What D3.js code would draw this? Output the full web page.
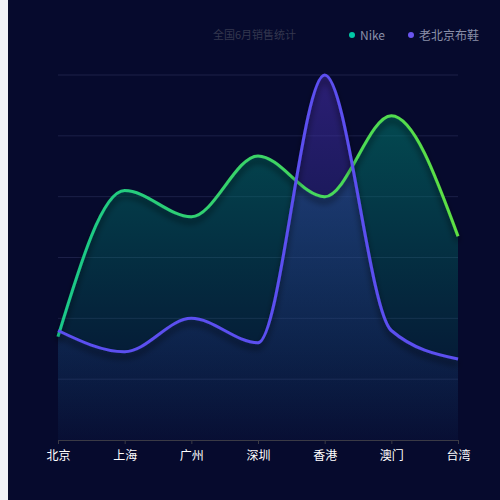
<!DOCTYPE html>
<html><head><meta charset="utf-8">
<script src="https://cdn.jsdelivr.net/npm/d3@7"></script>
<style>body{margin:0;background:#f0f2f7}svg{display:block}</style>
</head><body><svg id="c" width="500" height="500"></svg>
<script>
const cities = ['北京','上海','广州','深圳','香港','澳门','台湾'];
const nike = [1.7, 4.1, 3.67, 4.67, 4.0, 5.33, 3.35];
const beijingShoes = [1.8, 1.45, 2.0, 1.6, 6.0, 1.8, 1.33];
const yTicks = [0,1,2,3,4,5,6];

const svg = d3.select('#c');
const font = '"Noto Sans CJK SC", "Noto Sans", sans-serif';
svg.append('rect').attr('x',8).attr('width',492).attr('height',500).attr('fill','#060a2d');

const x = d3.scalePoint().domain(cities).range([58,458]);
const y = d3.scaleLinear().domain([0,6]).range([440,75]);
const defs = svg.append('defs');

function grad(id, stops, x1,y1,x2,y2){
  const g = defs.append('linearGradient').attr('id',id).attr('gradientUnits','userSpaceOnUse')
    .attr('x1',x1).attr('y1',y1).attr('x2',x2).attr('y2',y2);
  stops.forEach(([o,c,op])=>g.append('stop').attr('offset',o).attr('stop-color',c).attr('stop-opacity',op));
}
grad('nikeArea',[[0,'#00806f',0.6],[1,'#00806f',0.02]],0,75,0,440);
grad('blueArea',[[0,'#4a2fb0',0.55],[1,'#2a3a9a',0.05]],0,75,0,440);
grad('nikeLine',[[0,'#19c88a',1],[1,'#5ee043',1]],58,0,458,0);
const f = defs.append('filter').attr('id','glow').attr('x','-10%').attr('y','-10%').attr('width','120%').attr('height','130%');
f.append('feDropShadow').attr('dx',0).attr('dy',5).attr('stdDeviation',3).attr('flood-color','#000').attr('flood-opacity',0.6);

svg.append('g').selectAll('line').data(yTicks.slice(1)).join('line')
  .attr('x1',58).attr('x2',458).attr('y1',d=>y(d)).attr('y2',d=>y(d))
  .attr('stroke','#1c2048').attr('stroke-width',1);

const curve = d3.curveMonotoneX;
const area = d3.area().x((d,i)=>x(cities[i])).y0(y(0)).y1(d=>y(d)).curve(curve);
const line = d3.line().x((d,i)=>x(cities[i])).y(d=>y(d)).curve(curve);

svg.append('path').attr('d',area(nike)).attr('fill','url(#nikeArea)');
svg.append('path').attr('d',area(beijingShoes)).attr('fill','url(#blueArea)');
svg.append('path').attr('d',line(nike)).attr('fill','none').attr('stroke','url(#nikeLine)').attr('stroke-width',3).attr('filter','url(#glow)');
svg.append('path').attr('d',line(beijingShoes)).attr('fill','none').attr('stroke','#5c4ff0').attr('stroke-width',3).attr('filter','url(#glow)');

const ax = svg.append('g').attr('transform','translate(0,440)').call(d3.axisBottom(x).tickSize(4).tickSizeOuter(0));
ax.select('.domain').attr('stroke','#3a3a45');
ax.selectAll('line').attr('stroke','#3a3a45');
ax.selectAll('text').attr('fill','#fff').attr('font-size',12).attr('font-family',font).attr('dy','1.1em');

svg.append('text').attr('x',213).attr('y',39).text('全国6月销售统计').attr('fill','#34374f').attr('font-size',11).attr('font-family',font);
const legend = [['Nike','#00c9a7',352],['老北京布鞋','#6a55f0',411]];
legend.forEach(([t,c,lx])=>{
  svg.append('circle').attr('cx',lx).attr('cy',35).attr('r',3).attr('fill',c);
  svg.append('text').attr('x',lx+8).attr('y',39.5).text(t).attr('fill','#8a8fa8').attr('font-size',12).attr('font-family',font);
});
</script></body></html>
